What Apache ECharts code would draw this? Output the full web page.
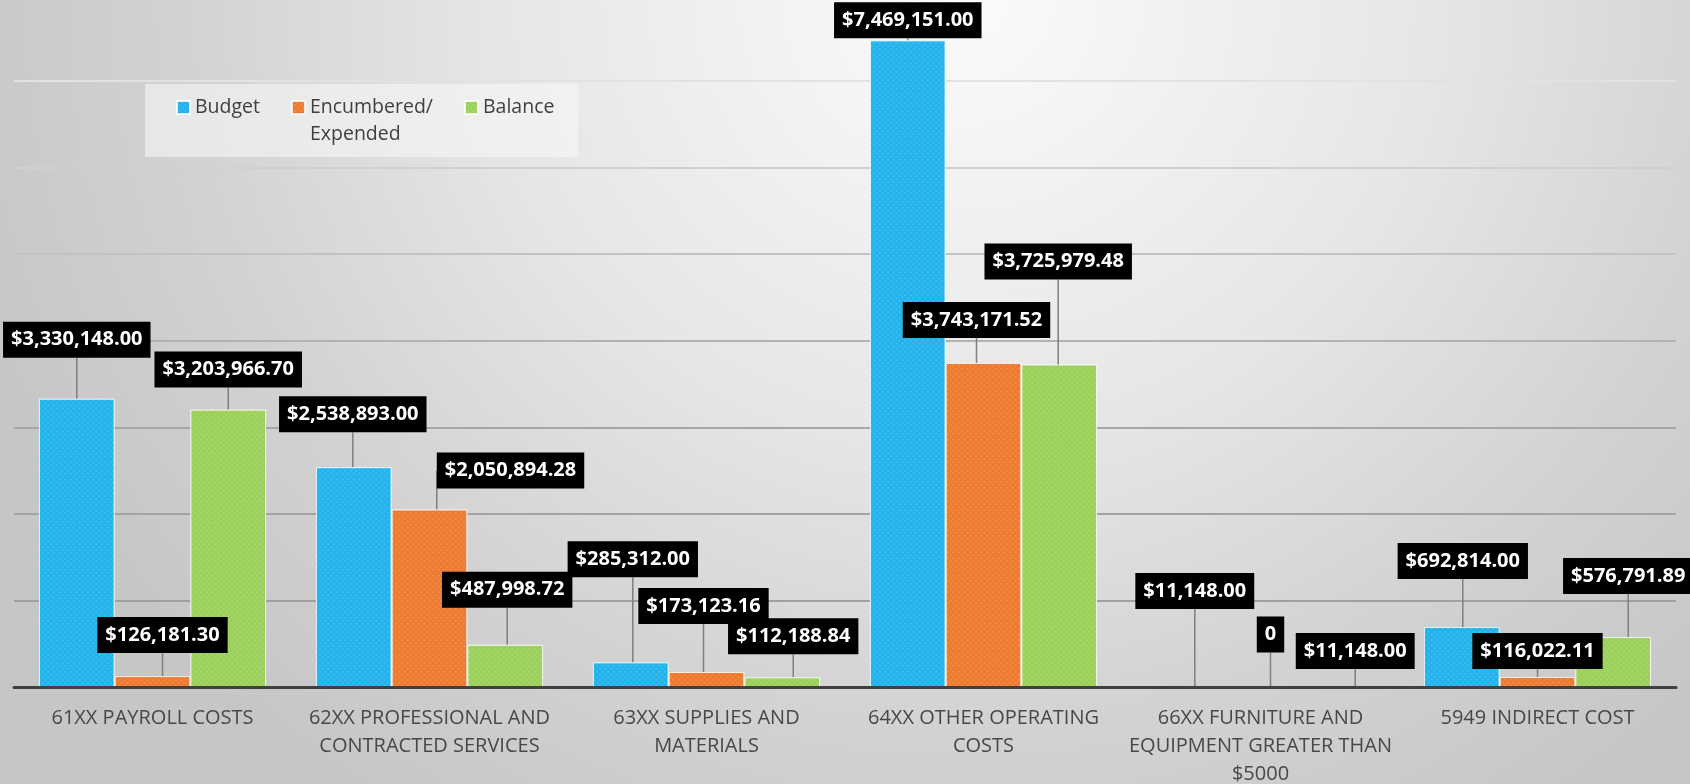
<!DOCTYPE html>
<html>
<head>
<meta charset="utf-8">
<script src="https://cdn.jsdelivr.net/npm/echarts@6/dist/echarts.min.js"></script>
<style>
  html, body { margin: 0; padding: 0; }
  #main {
    width: 1690px; height: 784px;
    background: radial-gradient(ellipse 62% 125% at 57% 0%, #fbfbfb 0%, #e6e6e6 45%, #d2d2d2 75%, #c6c6c6 100%);
  }
</style>
</head>
<body>
<div id="main"></div>
<script>
// data
let categories = [
  "61XX PAYROLL COSTS",
  "62XX PROFESSIONAL AND\nCONTRACTED SERVICES",
  "63XX SUPPLIES AND\nMATERIALS",
  "64XX OTHER OPERATING\nCOSTS",
  "66XX FURNITURE AND\nEQUIPMENT GREATER THAN\n$5000",
  "5949 INDIRECT COST"
]
let seriesNames = ["Budget", "Encumbered/Expended", "Balance"]
let budget = [3330148.00, 2538893.00, 285312.00, 7469151.00, 11148.00, 692814.00]
let encumbered = [126181.30, 2050894.28, 173123.16, 3743171.52, 0, 116022.11]
let balance = [3203966.70, 487998.72, 112188.84, 3725979.48, 11148.00, 576791.89]

// where the data labels were dragged to (pixel shift from the default spot above the bar)
let labelShift = [
  [[0, -36], [-1, -30], [2, -80], [0, 3], [10, -72], [1, -43]],
  [[10, -18], [81, -16], [-3, -43], [-7, -20], [10, -29], [0, -3]],
  [[0, -17], [2, -32], [11, -18], [-1, -80], [19, -12], [15, -38]]
]
let colors = ["#22b2ec", "#ee7a2f", "#9bd05a"]

var myChart = echarts.init(document.getElementById('main'))

function money(v){
  if (v === 0) return "0"
  return "$" + v.toLocaleString("en-US", {minimumFractionDigits: 2, maximumFractionDigits: 2})
}

function makeSeries(name, data, idx){
  return {
    name: name,
    type: 'bar',
    data: data,
    barGap: '0%',
    barCategoryGap: '18%',
    itemStyle: {
      color: colors[idx],
      borderColor: 'rgba(255,255,255,0.55)',
      borderWidth: 1,
      decal: {
        symbol: 'rect',
        symbolSize: 1,
        color: 'rgba(255,255,255,0.13)',
        dashArrayX: [2, 2],
        dashArrayY: [2, 2],
        rotation: 0.785
      }
    },
    label: {
      show: true,
      position: 'top',
      distance: 5,
      formatter: p => money(p.value),
      fontFamily: 'Open Sans',
      fontWeight: 'bold',
      fontSize: 20,
      lineHeight: 24,
      color: '#ffffff',
      backgroundColor: '#000000',
      padding: [6, 8, 6, 8]
    },
    labelLine: {
      show: true,
      lineStyle: { color: '#7f7f7f', width: 1.5 }
    },
    labelLayout: function(params){
      let s = labelShift[idx][params.dataIndex]
      return { dx: s[0], dy: s[1] }
    },
    z: 2
  }
}

var option = {
  animation: false,
  textStyle: { fontFamily: 'Open Sans' },
  grid: { left: 14, right: 14, top: 0, bottom: 97, containLabel: false, outerBoundsMode: 'none' },
  graphic: [{
    type: 'rect',
    left: 145, top: 84,
    shape: { width: 433, height: 73 },
    style: { fill: 'rgba(246,246,246,0.6)' },
    z: 1
  }],
  legend: {
    left: 176,
    top: 67,
    padding: 0,
    itemWidth: 13,
    itemHeight: 13,
    itemGap: 31,
    icon: 'rect',
    z: 5,
    // blank first line keeps "Encumbered/" level with the marker
    formatter: name => name === "Encumbered/Expended" ? "\nEncumbered/\nExpended" : name,
    textStyle: { fontFamily: 'Open Sans', fontSize: 19.5, color: '#404040', lineHeight: 27 },
    data: seriesNames
  },
  xAxis: {
    type: 'category',
    data: categories,
    axisLine: { lineStyle: { color: '#404040', width: 3 } },
    axisTick: { show: false },
    axisLabel: {
      interval: 0,
      margin: 17,
      fontFamily: 'Open Sans',
      fontSize: 20,
      lineHeight: 28,
      color: '#484848'
    },
    z: 3
  },
  yAxis: {
    type: 'value',
    min: 0,
    max: 7935000,
    interval: 1000000,
    axisLine: { show: false },
    axisTick: { show: false },
    axisLabel: { show: false },
    splitLine: {
      lineStyle: {
        width: 2,
        color: ['#8a8a8a', '#a0a0a0', '#a3a3a3', '#a6a6a6', '#b2b2b2', '#c2c2c2', '#d0d0d0', '#e2e2e2', 'rgba(0,0,0,0)']
      }
    }
  },
  series: [
    makeSeries(seriesNames[0], budget, 0),
    makeSeries(seriesNames[1], encumbered, 1),
    makeSeries(seriesNames[2], balance, 2)
  ]
}

myChart.setOption(option)
</script>
</body>
</html>
